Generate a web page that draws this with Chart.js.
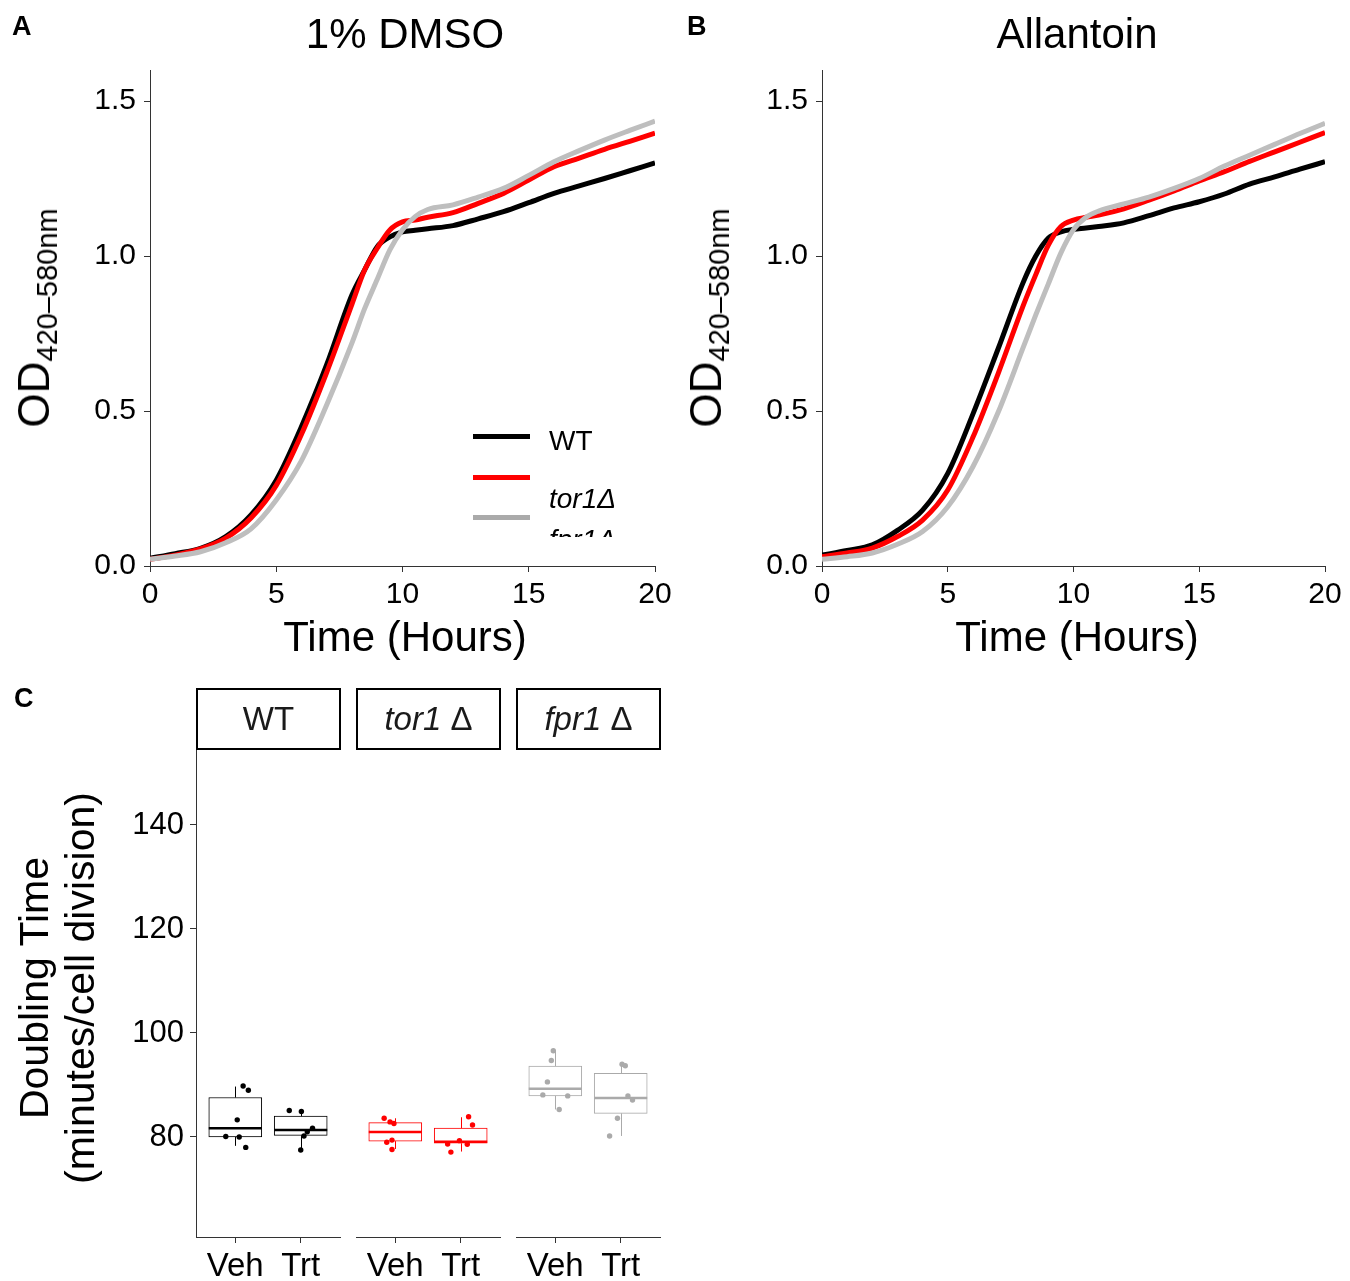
<!DOCTYPE html>
<html>
<head>
<meta charset="utf-8">
<script src="https://cdn.jsdelivr.net/npm/chart.js@4.4.0/dist/chart.umd.min.js"></script>
<style>
  body { margin: 0; background: #fff; font-family: "Liberation Sans", Arial, sans-serif; }
  #page { position: relative; width: 1350px; height: 1281px; overflow: hidden; background: #fff; }
  canvas { position: absolute; }
  .txt { position: absolute; white-space: nowrap; color: #000; line-height: 1; }
  .mid { transform: translate(-50%, -50%); }
  .rot { position: absolute; white-space: nowrap; color: #000; transform: translate(-50%, -50%) rotate(-90deg); }
  .letter { position: absolute; font-weight: bold; font-size: 27px; line-height: 1; }
  .strip { position: absolute; top: 688px; width: 145px; height: 62px; box-sizing: border-box;
           border: 2px solid #000; font-size: 33px; display: flex; align-items: center;
           justify-content: center; color: #1a1a1a; }
  #legend { position: absolute; left: 468px; top: 415px; width: 200px; height: 122px; overflow: hidden; }
  #legend .key { position: absolute; left: 5px; width: 57px; height: 5px; }
  #legend .name { position: absolute; left: 81px; font-size: 28px; line-height: 1; }
</style>
</head>
<body>
<div id="page">
  <canvas id="dmso" width="680" height="660" style="left:0;top:0"></canvas>
  <canvas id="allantoin" width="678" height="660" style="left:672px;top:0"></canvas>
  <canvas id="facetWT" width="345" height="581" style="left:0;top:700px"></canvas>
  <canvas id="facetTor" width="155" height="581" style="left:350px;top:700px"></canvas>
  <canvas id="facetFpr" width="155" height="581" style="left:510px;top:700px"></canvas>

  <div class="letter" style="left:12px;top:13px">A</div>
  <div class="letter" style="left:687px;top:13px">B</div>
  <div class="letter" style="left:14px;top:685px">C</div>

  <div class="txt mid" style="left:405px;top:34px;font-size:42px">1% DMSO</div>
  <div class="txt mid" style="left:1077px;top:34px;font-size:42px">Allantoin</div>
  <div class="txt mid" style="left:405px;top:637px;font-size:42px">Time (Hours)</div>
  <div class="txt mid" style="left:1077px;top:637px;font-size:42px">Time (Hours)</div>

  <div class="rot" style="left:34px;top:318px"><span style="font-size:44px">OD</span><span style="font-size:29px;position:relative;top:8px">420–580nm</span></div>
  <div class="rot" style="left:706px;top:318px"><span style="font-size:44px">OD</span><span style="font-size:29px;position:relative;top:8px">420–580nm</span></div>

  <div class="rot" style="left:57px;top:988px;font-size:41px;line-height:46px;text-align:center">Doubling Time<br>(minutes/cell division)</div>

  <div id="legend">
    <div class="key" style="top:19px;background:#000"></div>
    <div class="name" style="top:12px">WT</div>
    <div class="key" style="top:60px;background:#ff0000"></div>
    <div class="name" style="top:70px;font-style:italic">tor1Δ</div>
    <div class="key" style="top:100px;background:#aaaaaa"></div>
    <div class="name" style="top:111px;font-style:italic">fpr1Δ</div>
  </div>

  <div class="strip" style="left:196px">WT</div>
  <div class="strip" style="left:356px"><i>tor1</i>&nbsp;Δ</div>
  <div class="strip" style="left:516px"><i>fpr1</i>&nbsp;Δ</div>
</div>

<script>
// growth curves (hours vs OD)
const hours = [0, 1, 2, 3, 4, 5, 6, 7, 8, 8.5, 9, 9.5, 10, 10.5, 11, 12, 13, 14, 15, 16, 17, 18, 19, 20];
const strains = ["WT", "tor1Δ", "fpr1Δ"];
const lineColors = ["#000000", "#ff0000", "#bebebe"];
const boxColors = ["#000000", "#ff0000", "#aaaaaa"];

const dmsoWT   = [0.025, 0.04, 0.057, 0.095, 0.165, 0.277, 0.45, 0.65, 0.875, 0.955, 1.03, 1.062, 1.078, 1.083, 1.088, 1.098, 1.12, 1.143, 1.172, 1.202, 1.226, 1.25, 1.275, 1.30];
const dmsoTor1 = [0.022, 0.035, 0.055, 0.09, 0.155, 0.26, 0.425, 0.625, 0.845, 0.955, 1.025, 1.084, 1.11, 1.116, 1.125, 1.14, 1.17, 1.202, 1.245, 1.288, 1.316, 1.344, 1.37, 1.396];
const dmsoFpr1 = [0.022, 0.032, 0.046, 0.075, 0.12, 0.213, 0.34, 0.52, 0.72, 0.83, 0.925, 1.02, 1.085, 1.127, 1.15, 1.165, 1.19, 1.218, 1.26, 1.304, 1.34, 1.374, 1.405, 1.435];

const allWT   = [0.035, 0.05, 0.068, 0.115, 0.18, 0.299, 0.49, 0.70, 0.915, 1.0, 1.058, 1.078, 1.086, 1.09, 1.095, 1.107, 1.13, 1.155, 1.175, 1.20, 1.232, 1.255, 1.28, 1.304];
const allTor1 = [0.03, 0.042, 0.058, 0.095, 0.148, 0.245, 0.415, 0.62, 0.84, 0.94, 1.035, 1.095, 1.116, 1.125, 1.132, 1.152, 1.18, 1.21, 1.242, 1.272, 1.305, 1.336, 1.367, 1.398];
const allFpr1 = [0.022, 0.03, 0.042, 0.07, 0.111, 0.191, 0.32, 0.495, 0.705, 0.81, 0.91, 1.01, 1.085, 1.125, 1.145, 1.168, 1.19, 1.218, 1.25, 1.29, 1.325, 1.36, 1.395, 1.428];

const odTicks = [0, 0.5, 1.0, 1.5];
const hourTicks = [0, 5, 10, 15, 20];

// doubling times: [lower whisker, q1, median, q3, upper whisker] for Veh, Trt
const conditions = ["Veh", "Trt"];
const wtBoxes   = [[78.3, 80.0, 81.7, 87.6, 89.7], [77.5, 80.3, 81.35, 84.0, 85.0]];
const tor1Boxes = [[77.7, 79.2, 80.96, 82.75, 83.6], [77.2, 78.8, 79.1, 81.7, 83.8]];
const fpr1Boxes = [[85.3, 87.9, 89.3, 93.65, 96.7], [80.2, 84.55, 87.5, 92.25, 94.2]];

const wtPoints   = [[89.8, 89.0, 83.3, 80.1, 80.0, 78.0], [85.1, 84.9, 81.7, 81.0, 80.2, 77.5]];
const tor1Points = [[83.6, 82.9, 82.6, 79.0, 79.4, 77.6], [83.9, 82.3, 79.3, 78.65, 78.6, 77.1]];
const fpr1Points = [[96.6, 94.7, 90.6, 88.1, 87.9, 85.3], [94.0, 93.7, 87.9, 87.1, 83.6, 80.2]];

// horizontal jitter of the points (category units)
const wtJitter   = [[0.12, 0.2, 0.03, -0.145, 0.06, 0.16], [-0.175, 0.01, 0.18, 0.1, 0.05, 0]];
const tor1Jitter = [[-0.17, -0.08, -0.02, -0.13, -0.05, -0.05], [0.12, 0.18, -0.02, -0.2, 0.1, -0.15]];
const fpr1Jitter = [[-0.03, -0.06, -0.12, -0.19, 0.19, 0.06], [0.02, 0.07, 0.11, 0.18, -0.05, -0.17]];

const doublingTicks = [80, 100, 120, 140];

const tickFont = { family: "Liberation Sans", size: 30 };
const tickColor = "#000000";
const axisColor = "#333333";

function growthChart(id, series) {
  return new Chart(document.getElementById(id), {
    type: "line",
    data: {
      datasets: series.map((vals, i) => ({
        label: strains[i],
        data: hours.map((h, j) => ({ x: h, y: vals[j] })),
        borderColor: lineColors[i],
        borderWidth: 5,
        pointRadius: 0,
        fill: false,
        cubicInterpolationMode: "monotone",
        order: 3 - i
      }))
    },
    options: {
      responsive: false,
      animation: false,
      devicePixelRatio: 1,
      layout: { padding: { top: 70, right: 25, left: 0, bottom: 0 } },
      plugins: { legend: { display: false }, tooltip: { enabled: false } },
      scales: {
        x: {
          type: "linear", min: 0, max: 20,
          afterBuildTicks: s => { s.ticks = hourTicks.map(v => ({ value: v })); },
          afterFit: s => { s.height = 94; },
          ticks: { font: tickFont, color: tickColor, padding: 5, callback: v => String(v) },
          grid: { drawOnChartArea: false, tickLength: 6, color: axisColor },
          border: { color: axisColor, width: 1 }
        },
        y: {
          min: 0, max: 1.6,
          afterBuildTicks: s => { s.ticks = odTicks.map(v => ({ value: v })); },
          afterFit: s => { s.width = 150; },
          ticks: { font: tickFont, color: tickColor, padding: 8, callback: v => v.toFixed(1) },
          grid: { drawOnChartArea: false, tickLength: 6, color: axisColor },
          border: { color: axisColor, width: 1 }
        }
      }
    }
  });
}

growthChart("dmso", [dmsoWT, dmsoTor1, dmsoFpr1]);
growthChart("allantoin", [allWT, allTor1, allFpr1]);

// whiskers and medians drawn right after the boxes
function boxLayer(stats, color) {
  return {
    id: "boxLayer",
    afterDatasetDraw(chart, args) {
      if (args.index !== 0) return;
      const ctx = chart.ctx;
      const x = chart.scales.x, y = chart.scales.y;
      const bars = chart.getDatasetMeta(0).data;
      ctx.save();
      ctx.strokeStyle = color;
      stats.forEach((s, i) => {
        const cx = Math.round(x.getPixelForValue(i + 1)) + 0.5;
        ctx.lineWidth = 1;
        ctx.beginPath();
        ctx.moveTo(cx, y.getPixelForValue(s[3]));
        ctx.lineTo(cx, y.getPixelForValue(s[4]));
        ctx.moveTo(cx, y.getPixelForValue(s[1]));
        ctx.lineTo(cx, y.getPixelForValue(s[0]));
        ctx.stroke();
        const half = bars[i].width / 2;
        const ym = y.getPixelForValue(s[2]);
        ctx.lineWidth = 2.5;
        ctx.beginPath();
        ctx.moveTo(bars[i].x - half, ym);
        ctx.lineTo(bars[i].x + half, ym);
        ctx.stroke();
      });
      ctx.restore();
    }
  };
}

function facetChart(id, boxes, points, jitter, color, showY, padLeft) {
  return new Chart(document.getElementById(id), {
    data: {
      datasets: [
        {
          type: "bar",
          data: boxes.map((b, i) => ({ x: i + 1, y: [b[1], b[3]] })),
          backgroundColor: "#ffffff",
          borderColor: color,
          borderWidth: 1,
          borderSkipped: false,
          barThickness: 53,
          grouped: false,
          order: 2
        },
        {
          type: "scatter",
          data: points.flatMap((vals, i) => vals.map((v, k) => ({ x: i + 1 + jitter[i][k], y: v }))),
          pointRadius: 2.7,
          pointBackgroundColor: color,
          pointBorderWidth: 0,
          order: 1
        }
      ]
    },
    options: {
      responsive: false,
      animation: false,
      devicePixelRatio: 1,
      layout: { padding: { top: 50, right: 5, left: padLeft, bottom: 0 } },
      plugins: { legend: { display: false }, tooltip: { enabled: false } },
      scales: {
        x: {
          type: "linear", min: 0.4, max: 2.6, offset: false,
          afterBuildTicks: s => { s.ticks = [{ value: 1 }, { value: 2 }]; },
          afterFit: s => { s.height = 44; },
          ticks: { font: { family: "Liberation Sans", size: 33 }, color: tickColor, padding: 4,
                   callback: v => conditions[v - 1] },
          grid: { offset: false, drawOnChartArea: false, tickLength: 6, color: axisColor },
          border: { color: axisColor, width: 1 }
        },
        y: {
          display: showY,
          min: 60.77, max: 154.42,
          afterBuildTicks: s => { s.ticks = doublingTicks.map(v => ({ value: v })); },
          afterFit: s => { if (showY) s.width = 196; },
          ticks: { font: { family: "Liberation Sans", size: 31 }, color: tickColor, padding: 6 },
          grid: { drawOnChartArea: false, tickLength: 6, color: axisColor },
          border: { color: axisColor, width: 1 }
        }
      }
    },
    plugins: [boxLayer(boxes, color)]
  });
}

facetChart("facetWT", wtBoxes, wtPoints, wtJitter, boxColors[0], true, 0);
facetChart("facetTor", tor1Boxes, tor1Points, tor1Jitter, boxColors[1], false, 6);
facetChart("facetFpr", fpr1Boxes, fpr1Points, fpr1Jitter, boxColors[2], false, 6);
</script>
</body>
</html>
